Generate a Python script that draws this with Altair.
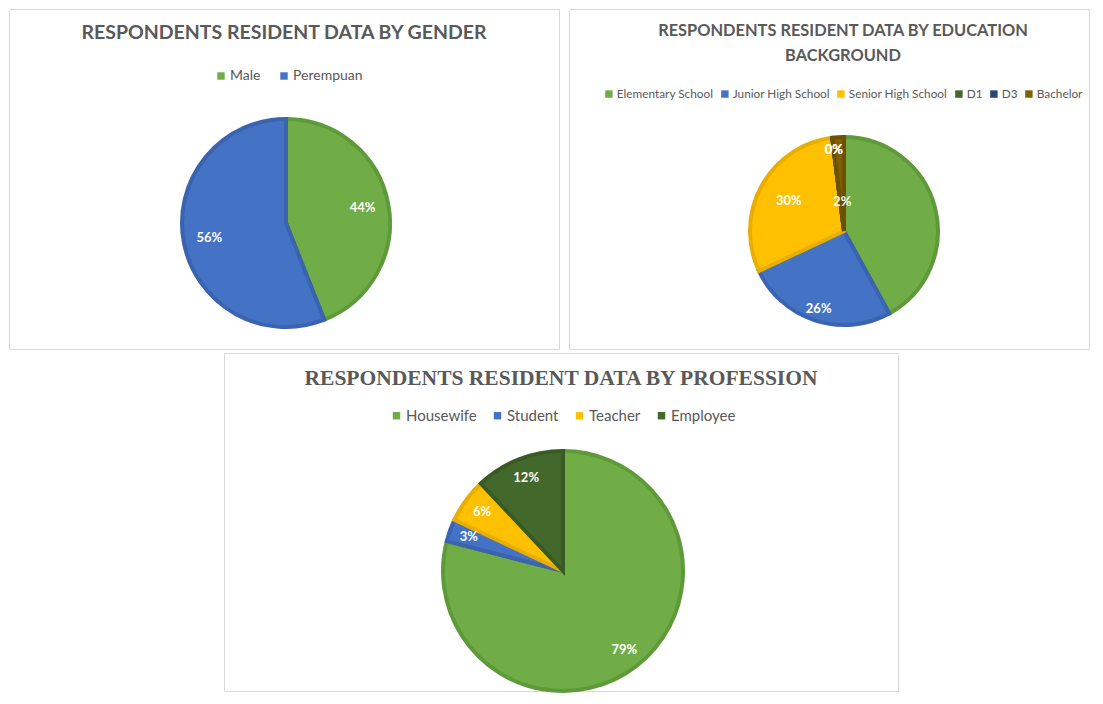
import altair as alt
import pandas as pd

# ---------------- data ----------------
gender_cats = ["Male", "Perempuan"]
gender_vals = [44, 56]
gender_labels = ["44%", "56%"]

edu_cats = ["Elementary School", "Junior High School", "Senior High School", "D1", "D3", "Bachelor"]
edu_vals = [42, 26, 30, 0, 0, 2]
edu_labels = ["", "26%", "30%", "0%", "0%", "2%"]

prof_cats = ["Housewife", "Student", "Teacher", "Employee"]
prof_vals = [79, 3, 6, 12]
prof_labels = ["79%", "3%", "6%", "12%"]

title_gender = "RESPONDENTS RESIDENT DATA BY GENDER"
title_edu = "RESPONDENTS RESIDENT DATA BY EDUCATION\nBACKGROUND"
title_prof = "RESPONDENTS RESIDENT DATA BY PROFESSION"

GREEN, GREEN_S = "#70AD47", "#5F9A3A"
BLUE, BLUE_S = "#4472C4", "#3A63B0"
GOLD, GOLD_S = "#FFC000", "#E8AE00"
DKGREEN, DKGREEN_S = "#43682B", "#385A23"
NAVY, NAVY_S = "#264478", "#1F3A68"
BROWN, BROWN_S = "#7F6000", "#6B5100"

TXT = "#595959"
BORDER = "#D9D9D9"


def frame(cats, vals, labels):
    return pd.DataFrame({"cat": cats, "value": vals, "label": labels,
                         "idx": list(range(len(cats)))})


def panel(df, cats, fills, strokes, title, title_font, title_size, title_x,
          title_y, w, h, cx, cy, r, label_specs, legend_x, legend_y,
          legend_size, col_pad):
    base = alt.Chart(df)
    arcs = base.mark_arc(radius=r, strokeWidth=4, strokeJoin="miter").encode(
        theta=alt.Theta("value:Q", stack=True),
        color=alt.Color("cat:N", sort=cats,
                        scale=alt.Scale(domain=cats, range=fills),
                        legend=alt.Legend(
                            title=None, orient="none", direction="horizontal",
                            legendX=legend_x, legendY=legend_y,
                            symbolType="square", symbolSize=55,
                            symbolStrokeWidth=0, labelFont="Lato",
                            labelFontSize=legend_size, labelColor=TXT,
                            labelOffset=2, columnPadding=col_pad)),
        stroke=alt.Stroke("cat:N", scale=alt.Scale(domain=cats, range=strokes),
                          legend=None),
        order=alt.Order("idx:Q"),
        x=alt.value(cx), y=alt.value(cy),
    )
    layers = [arcs]
    for names, rad in label_specs:
        t = base.transform_window(
            cum="sum(value)", sort=[alt.SortField("idx")], frame=[None, 0]
        ).transform_calculate(
            mid="datum.cum - datum.value / 2"
        ).transform_filter(
            alt.FieldOneOfPredicate(field="cat", oneOf=names)
        ).mark_text(radius=rad, color="white", font="Lato", fontSize=13,
                    fontWeight="bold").encode(
            theta=alt.Theta("mid:Q", stack=None,
                            scale=alt.Scale(domain=[0, 100])),
            text="label:N",
            x=alt.value(cx), y=alt.value(cy),
        )
        layers.append(t)
    ttl = alt.Chart(pd.DataFrame({"t": [title]})).mark_text(
        font=title_font, fontSize=title_size, fontWeight="bold", color=TXT,
        lineBreak="\n", lineHeight=25, align="center", baseline="middle"
    ).encode(text="t:N", x=alt.value(title_x), y=alt.value(title_y))
    layers.append(ttl)
    return alt.layer(*layers).resolve_scale(theta="independent").properties(
        width=w, height=h, view=alt.ViewBackground(stroke=BORDER, strokeWidth=1)
    )


g = panel(frame(gender_cats, gender_vals, gender_labels), gender_cats,
          [GREEN, BLUE], [GREEN_S, BLUE_S], title_gender, "Lato", 19.5, 275, 24,
          550, 340, 277, 214, 104, [(gender_cats, 78)],
          205, 60, 14, 16)

e = panel(frame(edu_cats, edu_vals, edu_labels), edu_cats,
          [GREEN, BLUE, GOLD, DKGREEN, NAVY, BROWN],
          [GREEN_S, BLUE_S, GOLD_S, DKGREEN_S, NAVY_S, BROWN_S],
          title_edu, "Lato", 16.4, 274, 22, 520, 340, 275, 222, 94,
          [(["Junior High School", "D1", "D3"], 82),
           (["Senior High School"], 63), (["Bachelor"], 29)],
          34, 79, 11.8, 5)

p = panel(frame(prof_cats, prof_vals, prof_labels), prof_cats,
          [GREEN, BLUE, GOLD, DKGREEN], [GREEN_S, BLUE_S, GOLD_S, DKGREEN_S],
          title_prof, "Liberation Serif", 21.5, 337, 26, 674, 338, 339, 218, 120,
          [(prof_cats, 100)], 165, 55, 15, 13)

spacer = alt.Chart(pd.DataFrame({"a": [0]})).mark_text(text="").encode(
    x=alt.value(0)
).properties(width=206, height=10, view=alt.ViewBackground(stroke=None))

top = alt.hconcat(g, e, spacing=8).resolve_scale(color="independent",
                                                 stroke="independent")
bottom = alt.hconcat(spacer, p, spacing=8).resolve_scale(color="independent",
                                                         stroke="independent")
chart = alt.vconcat(top, bottom, spacing=2).resolve_scale(
    color="independent", stroke="independent"
).properties(padding=0, background="white").configure_view(stroke=None)

chart.save("out.html", embed_options={"renderer": "svg", "actions": False})
